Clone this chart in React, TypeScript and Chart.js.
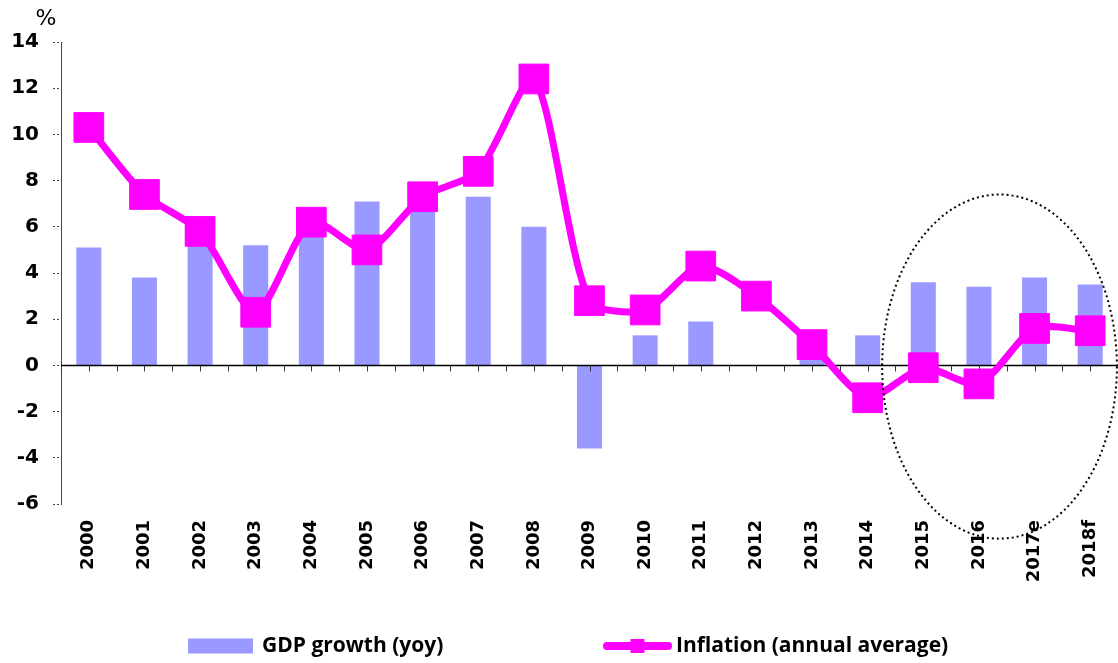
import React, { useEffect, useRef } from "react";
import { Chart, registerables } from "chart.js";

Chart.register(...registerables);

// ---- data ----
const categories = [
  "2000", "2001", "2002", "2003", "2004", "2005", "2006", "2007", "2008", "2009",
  "2010", "2011", "2012", "2013", "2014", "2015", "2016", "2017e", "2018f",
];
const gdpGrowth = [
  5.1, 3.8, 5.3, 5.2, 6.0, 7.1, 6.9, 7.3, 6.0, -3.6,
  1.3, 1.9, 0.0, 0.9, 1.3, 3.6, 3.4, 3.8, 3.5,
];
const inflation = [
  10.3, 7.4, 5.8, 2.3, 6.2, 5.0, 7.3, 8.4, 12.4, 2.8,
  2.4, 4.3, 3.0, 0.9, -1.4, -0.1, -0.8, 1.6, 1.5,
];
const seriesLabels = ["GDP growth (yoy)", "Inflation (annual average)"];
const yMin = -6;
const yMax = 14;
const yStep = 2;
const unitLabel = "%";
// highlighted forecast region (category index / value units)
const highlightX = [14.26, 18.48];
const highlightY = [-7.5, 7.4];

const BAR_COLOR = "#9999FF";
const LINE_COLOR = "#FF00FF";

const zeroLinePlugin = {
  id: "zeroLine",
  afterDatasetDraw(chart: any, args: any) {
    if (args.index !== 0) return;
    const { ctx, chartArea } = chart;
    const xs = chart.scales.x;
    const ys = chart.scales.y;
    const y0 = ys.getPixelForValue(0);
    ctx.save();
    ctx.strokeStyle = "#000";
    ctx.lineWidth = 1.5;
    ctx.beginPath();
    ctx.moveTo(chartArea.left, y0);
    ctx.lineTo(chartArea.right, y0);
    ctx.stroke();
    ctx.strokeStyle = "#333";
    ctx.lineWidth = 1;
    ctx.beginPath();
    for (let i = 0; i <= categories.length; i++) {
      const xb = Math.round(xs.getPixelForValue(i - 0.5)) + 0.5;
      ctx.moveTo(xb, y0);
      ctx.lineTo(xb, y0 + 6);
      if (i < categories.length) {
        const xc = Math.round(xs.getPixelForValue(i)) + 0.5;
        ctx.moveTo(xc, y0);
        ctx.lineTo(xc, y0 + 6);
      }
    }
    ctx.stroke();
    ctx.restore();
  },
};

const ellipsePlugin = {
  id: "highlightEllipse",
  afterDatasetsDraw(chart: any) {
    const { ctx } = chart;
    const xs = chart.scales.x;
    const ys = chart.scales.y;
    const x1 = xs.getPixelForValue(highlightX[0]);
    const x2 = xs.getPixelForValue(highlightX[1]);
    const y1 = ys.getPixelForValue(highlightY[1]);
    const y2 = ys.getPixelForValue(highlightY[0]);
    ctx.save();
    ctx.strokeStyle = "#000";
    ctx.lineWidth = 2;
    ctx.setLineDash([2, 3]);
    ctx.beginPath();
    ctx.ellipse((x1 + x2) / 2, (y1 + y2) / 2, (x2 - x1) / 2, (y2 - y1) / 2, 0, 0, Math.PI * 2);
    ctx.stroke();
    ctx.restore();
  },
};

const extrasPlugin = {
  id: "extras",
  afterDraw(chart: any) {
    const { ctx, chartArea, width } = chart;
    ctx.save();
    // unit label
    ctx.fillStyle = "#000";
    ctx.font = "22px 'DejaVu Sans'";
    ctx.textAlign = "center";
    ctx.textBaseline = "middle";
    ctx.fillText(unitLabel, chartArea.left - 15, chartArea.top - 23);

    // legend
    const cy = chart.height - 17;
    const start = width / 2 - 371;
    ctx.font = "bold 21px 'Open Sans'";
    ctx.textAlign = "left";
    ctx.textBaseline = "middle";
    ctx.fillStyle = BAR_COLOR;
    ctx.fillRect(start, cy - 7.5, 65, 15);
    ctx.fillStyle = "#000";
    ctx.fillText(seriesLabels[0], start + 74, cy);

    const s2 = start + 415;
    ctx.strokeStyle = LINE_COLOR;
    ctx.lineWidth = 8;
    ctx.lineCap = "round";
    ctx.beginPath();
    ctx.moveTo(s2 + 4, cy);
    ctx.lineTo(s2 + 65, cy);
    ctx.stroke();
    ctx.fillStyle = LINE_COLOR;
    ctx.fillRect(s2 + 34.5 - 7, cy - 7, 14, 14);
    ctx.fillStyle = "#000";
    ctx.fillText(seriesLabels[1], s2 + 73, cy);
    ctx.restore();
  },
};

export default function App() {
  const canvasRef = useRef<HTMLCanvasElement | null>(null);

  useEffect(() => {
    const canvas = canvasRef.current;
    if (!canvas) return;
    const chart = new Chart(canvas, {
      type: "bar",
      data: {
        labels: categories,
        datasets: [
          {
            type: "bar",
            label: seriesLabels[0],
            data: gdpGrowth,
            backgroundColor: BAR_COLOR,
            borderWidth: 0,
            barPercentage: 0.45,
            categoryPercentage: 1,
            order: 2,
          } as any,
          {
            type: "line",
            label: seriesLabels[1],
            data: inflation,
            borderColor: LINE_COLOR,
            backgroundColor: LINE_COLOR,
            borderWidth: 7,
            pointStyle: "rect",
            pointRadius: 21,
            pointBorderWidth: 1,
            pointBackgroundColor: LINE_COLOR,
            pointBorderColor: LINE_COLOR,
            tension: 0.25,
            fill: false,
            order: 1,
            clip: false,
          } as any,
        ],
      },
      options: {
        responsive: false,
        animation: false,
        devicePixelRatio: 1,
        events: [],
        layout: { autoPadding: false, padding: { top: 42, right: 0, bottom: 59, left: 0 } },
        plugins: {
          legend: { display: false },
          tooltip: { enabled: false },
          title: { display: false },
        },
        scales: {
          x: {
            type: "category",
            offset: true,
            grid: { display: false, drawTicks: false },
            border: { display: false },
            ticks: {
              autoSkip: false,
              maxRotation: 90,
              minRotation: 90,
              padding: 16,
              color: "#000",
              font: { family: "'DejaVu Sans'", size: 18, weight: "bold" },
            },
            afterFit: (scale: any) => {
              scale.height = 100;
              scale.paddingLeft = 0;
              scale.paddingRight = 0;
            },
          },
          y: {
            min: yMin,
            max: yMax,
            ticks: {
              stepSize: yStep,
              padding: 14,
              color: "#000",
              font: { family: "'DejaVu Sans'", size: 20, weight: "bold" },
            },
            grid: {
              drawOnChartArea: false,
              drawTicks: true,
              tickLength: 8,
              tickColor: "#444",
              tickBorderDash: [2, 2],
            },
            border: { display: true, color: "#444", width: 1, dash: [2, 2] },
            afterFit: (scale: any) => {
              scale.width = 61;
            },
          },
        },
      },
      plugins: [zeroLinePlugin, ellipsePlugin, extrasPlugin],
    });
    return () => chart.destroy();
  }, []);

  return (
    <div style={{ position: "fixed", left: 0, top: 0, width: 1118, height: 663, background: "#fff" }}>
      <canvas ref={canvasRef} width={1118} height={663} style={{ display: "block" }} />
    </div>
  );
}
